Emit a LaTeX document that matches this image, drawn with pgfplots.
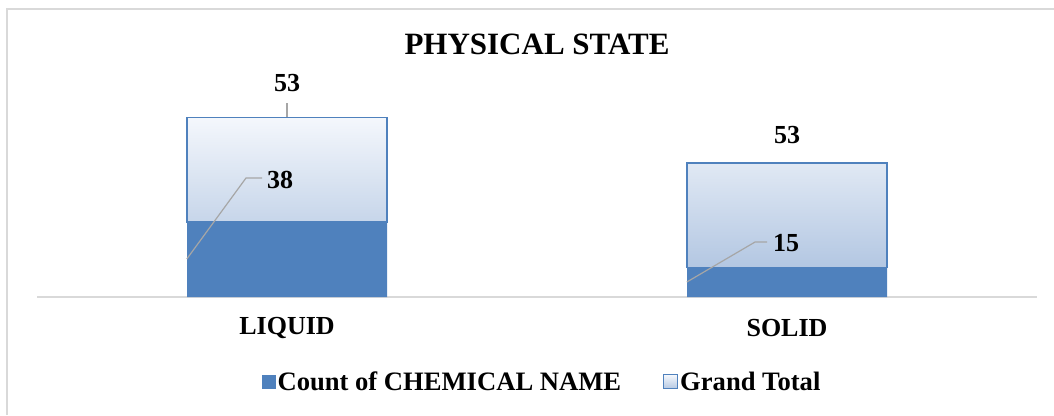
\documentclass[border=0pt]{standalone}
\usepackage{pgfplots}
\pgfplotsset{compat=1.18}
\usepackage{fontspec}
\setmainfont{Liberation Serif}
\definecolor{darkblue}{HTML}{4F81BD}
\definecolor{lighttop}{HTML}{F4F7FC}
\definecolor{lightbot}{HTML}{B3C7E2}
\definecolor{leader}{HTML}{A6A6A6}
\definecolor{frame}{HTML}{D9D9D9}
\begin{document}
\begin{tikzpicture}[x=1pt,y=1pt]
\useasboundingbox (0,0) rectangle (1054,415);
\draw[frame, line width=1.5pt] (7,0) -- (7,406) -- (1054,406);
\begin{axis}[
  at={(37pt,118pt)}, anchor=south west,
  scale only axis, width=1000pt, height=197pt,
  xmin=-0.5, xmax=1.5, ymin=0, ymax=100,
  clip=false,
  ybar stacked, bar width=200pt,
  axis y line=none,
  axis x line*=bottom,
  x axis line style={frame, line width=1.5pt},
  xtick={0,1}, xticklabels={LIQUID,SOLID},
  xtick style={draw=none},
  xticklabel style={anchor=center, yshift=-31pt, font=\fontsize{26}{30}\selectfont\bfseries},
  title={PHYSICAL STATE},
  title style={at={(0.5,1.254)}, anchor=center, font=\fontsize{31}{36}\selectfont\bfseries},
  legend columns=2,
  legend style={at={(0.505,-0.431)}, anchor=center, draw=none, fill=none,
    font=\fontsize{26.6}{30}\selectfont\bfseries,
    nodes={inner xsep=2pt},
    /tikz/every even column/.append style={column sep=40pt}},
  legend cell align=left,
]
\addplot[fill=darkblue, draw=none,
  legend image code/.code={\fill[darkblue] (0pt,-7pt) rectangle (14pt,7pt);}]
  coordinates {(0,38) (1,15)};
\addlegendentry{Count of CHEMICAL NAME}
\addplot[draw=darkblue, line width=1.3pt, top color=lighttop, bottom color=lightbot,
  legend image code/.code={\draw[darkblue, line width=1pt, top color=lighttop, bottom color=lightbot] (0pt,-7pt) rectangle (14pt,7pt);}]
  coordinates {(0,53) (1,53)};
\addlegendentry{Grand Total}
% anchor points for data labels
\coordinate (L1a) at (axis cs:0,91.4);
\coordinate (L1b) at (axis cs:0,98.5);
\coordinate (T1) at (axis cs:0,108.6);
\coordinate (T2) at (axis cs:1,82.2);
\coordinate (A1) at (axis cs:-0.050,60.4);
\coordinate (A2) at (axis cs:-0.082,60.4);
\coordinate (A3) at (axis cs:-0.2004,19.3);
\coordinate (C1) at (axis cs:-0.014,59.4);
\coordinate (B1) at (axis cs:0.960,27.9);
\coordinate (B2) at (axis cs:0.936,27.9);
\coordinate (B3) at (axis cs:0.7996,7.6);
\coordinate (C2) at (axis cs:0.998,27.4);
\end{axis}
\draw[leader, line width=1.2pt] (L1a) -- (L1b);
\node[font=\fontsize{26}{30}\selectfont\bfseries] at (T1) {53};
\node[font=\fontsize{26}{30}\selectfont\bfseries] at (T2) {53};
\draw[leader, line width=1.2pt] (A1) -- (A2) -- (A3);
\node[font=\fontsize{26}{30}\selectfont\bfseries] at (C1) {38};
\draw[leader, line width=1.2pt] (B1) -- (B2) -- (B3);
\node[font=\fontsize{26}{30}\selectfont\bfseries] at (C2) {15};
\end{tikzpicture}
\end{document}
